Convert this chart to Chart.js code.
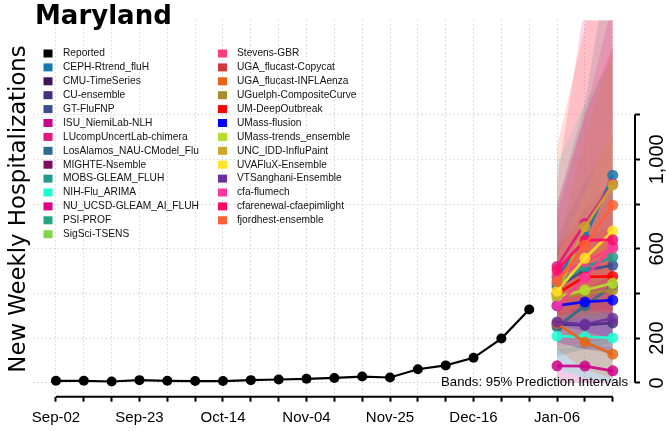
<!DOCTYPE html>
<html>
<head>
<meta charset="utf-8">
<script src="https://cdn.jsdelivr.net/npm/chart.js@4"></script>
<style>
  html, body { margin: 0; padding: 0; background: #ffffff; }
  canvas { display: block; }
</style>
</head>
<body>
<canvas id="c" width="666" height="431"></canvas>
<script>
// ---------------- DATA ----------------
const chartTitle = 'Maryland';
const yAxisTitle = 'New Weekly Hospitalizations';
const bandNote = 'Bands: 95% Prediction Intervals';

const weekLabels = ['Sep-02','Sep-09','Sep-16','Sep-23','Sep-30','Oct-07','Oct-14','Oct-21','Oct-28',
  'Nov-04','Nov-11','Nov-18','Nov-25','Dec-02','Dec-09','Dec-16','Dec-23','Dec-30','Jan-06','Jan-13','Jan-20'];
const xTickLabels = ['Sep-02','','','Sep-23','','','Oct-14','','','Nov-04','','','Nov-25','','','Dec-16','','','Jan-06','',''];

const yTickValues = [0, 200, 400, 600, 800, 1000, 1200];
const yTickLabels = ['0', '200', '', '600', '', '1,000', ''];

const reported = [9, 9, 6, 12, 9, 8, 8, 12, 15, 18, 22, 28, 24, 61, 78, 112, 198, 328];

const forecastStart = 18; // index of Jan-06

const models = ['CEPH-Rtrend_fluH','CMU-TimeSeries','CU-ensemble','GT-FluFNP','ISU_NiemiLab-NLH',
  'LUcompUncertLab-chimera','LosAlamos_NAU-CModel_Flu','MIGHTE-Nsemble','MOBS-GLEAM_FLUH','NIH-Flu_ARIMA',
  'NU_UCSD-GLEAM_AI_FLUH','PSI-PROF','SigSci-TSENS','Stevens-GBR','UGA_flucast-Copycat',
  'UGA_flucast-INFLAenza','UGuelph-CompositeCurve','UM-DeepOutbreak','UMass-flusion','UMass-trends_ensemble',
  'UNC_IDD-InfluPaint','UVAFluX-Ensemble','VTSanghani-Ensemble','cfa-flumech','cfarenewal-cfaepimlight',
  'fjordhest-ensemble'];

const modelColors = ['#1479AE','#3F1558','#472F7D','#3A4D8F','#CC0088',
  '#E0187F','#2C6B8C','#7A1060','#239A8C','#1CFFD2',
  '#DB0080','#24A685','#82D54A','#FF3D7A','#CF3B3B',
  '#E86413','#A98C2F','#FF0000','#0000FF','#B3DE2C',
  '#C9A82A','#FFE423','#6A2F9C','#FF389E','#FF0A6C',
  '#FF5F34'];

// median forecasts for Jan-06, Jan-13, Jan-20 (null = no forecast shown)
const fcMedian = [
  [470, 650, 929], null, [262, 258, 268], [430, 504, 526], [76, 75, 54],
  [521, 713, 890], [250, 345, 435], null, [445, 519, 562], [209, 206, 201],
  null, null, null, [480, 541, 603], null,
  [265, 183, 128], [380, 400, 415], [400, 474, 476], [345, 362, 370], [385, 415, 446],
  [395, 698, 885], [410, 557, 679], [272, 262, 289], [345, 470, 610], [505, 638, 640],
  [452, 616, 795]
];
const fcLower = [
  [250, 300, 380], null, [180, 150, 130], [300, 320, 330], [0, 0, 0],
  [350, 400, 420], [120, 150, 180], null, [300, 300, 280], [60, 20, 0],
  null, null, null, [350, 380, 400], null,
  [150, 60, 20], [280, 270, 260], [300, 330, 320], [260, 230, 200], [290, 290, 280],
  [250, 400, 500], [300, 350, 380], [180, 150, 140], [150, 180, 200], [300, 330, 300],
  [250, 300, 320]
];
const fcUpper = [
  [800, 1250, 2000], null, [360, 400, 450], [600, 780, 900], [150, 170, 160],
  [750, 1200, 1700], [420, 650, 900], null, [650, 900, 1100], [980, 1250, 1450],
  null, null, null, [620, 720, 820], null,
  [420, 380, 350], [500, 560, 620], [520, 650, 700], [440, 520, 600], [490, 580, 680],
  [600, 1100, 1500], [560, 850, 1150], [380, 420, 480], [900, 1700, 2500], [800, 1200, 1500],
  [1057, 1590, 2500]
];

// ---------------- BUILD ----------------
function rgba(hex, a) {
  const n = parseInt(hex.slice(1), 16);
  return `rgba(${(n >> 16) & 255},${(n >> 8) & 255},${n & 255},${a})`;
}
const bandAlpha = 0.2;
const nM = models.length;

const datasets = [];
datasets.push({
  label: 'Reported',
  data: reported.map((v, i) => ({ x: i, y: v })),
  borderColor: '#000', backgroundColor: '#000',
  borderWidth: 2.2, pointRadius: 5, pointBorderWidth: 0, order: 0
});
// later models are painted on top (lower order = drawn later in Chart.js)
models.forEach((m, k) => {
  if (!fcMedian[k]) return;
  datasets.push({
    label: m,
    data: fcMedian[k].map((v, j) => ({ x: forecastStart + j, y: v })),
    borderColor: rgba(modelColors[k], 0.9), backgroundColor: rgba(modelColors[k], 0.85),
    borderWidth: 2.8, pointRadius: 5.5, pointBorderWidth: 0, order: 1 + (nM - k)
  });
});
models.forEach((m, k) => {
  if (!fcLower[k]) return;
  datasets.push({
    label: m + ' upper',
    data: fcUpper[k].map((v, j) => ({ x: forecastStart + j, y: v })),
    fill: '+1', backgroundColor: rgba(modelColors[k], bandAlpha),
    borderColor: 'rgba(0,0,0,0)', borderWidth: 1, pointRadius: 0, pointHitRadius: 0,
    order: 100 + 2 * (nM - k)
  });
  datasets.push({
    label: m + ' lower',
    data: fcLower[k].map((v, j) => ({ x: forecastStart + j, y: v })),
    fill: false, backgroundColor: 'rgba(0,0,0,0)',
    borderColor: 'rgba(0,0,0,0)', borderWidth: 1, pointRadius: 0, pointHitRadius: 0,
    order: 100 + 2 * (nM - k) + 1
  });
});

const legendNames = ['Reported'].concat(models);
const legendColors = ['#000000'].concat(modelColors);

const decor = {
  id: 'decor',
  afterDraw(chart) {
    const { ctx, chartArea, scales: { x, y } } = chart;
    ctx.save();
    // axis lines (R style: span first to last tick)
    ctx.strokeStyle = '#000'; ctx.lineWidth = 2;
    ctx.beginPath();
    ctx.moveTo(x.getPixelForValue(0), chartArea.bottom);
    ctx.lineTo(x.getPixelForValue(weekLabels.length - 1), chartArea.bottom);
    ctx.moveTo(chartArea.right, y.getPixelForValue(yTickValues[0]));
    ctx.lineTo(chartArea.right, y.getPixelForValue(yTickValues[yTickValues.length - 1]));
    ctx.stroke();

    // right-axis labels, rotated
    ctx.fillStyle = '#000';
    ctx.font = '20px "Liberation Sans", Arial, sans-serif';
    ctx.textAlign = 'center'; ctx.textBaseline = 'alphabetic';
    yTickValues.forEach((v, i) => {
      const lab = yTickLabels[i];
      if (!lab) return;
      ctx.save();
      ctx.translate(chartArea.right + 28, y.getPixelForValue(v));
      ctx.rotate(-Math.PI / 2);
      ctx.fillText(lab, 0, 0);
      ctx.restore();
    });

    // title
    ctx.textAlign = 'left'; ctx.textBaseline = 'alphabetic';
    ctx.font = 'bold 26px "DejaVu Sans", sans-serif';
    ctx.fillText(chartTitle, 35, 24);

    // y-axis title
    ctx.save();
    ctx.translate(25, 209);
    ctx.rotate(-Math.PI / 2);
    ctx.textAlign = 'center';
    ctx.font = '22.8px "DejaVu Sans", sans-serif';
    ctx.fillText(yAxisTitle, 0, 0);
    ctx.restore();

    // bands note
    ctx.textAlign = 'right';
    ctx.font = '13.2px "Liberation Sans", Arial, sans-serif';
    ctx.fillText(bandNote, 628, 386);

    // legend (two columns)
    ctx.font = '10.2px "Liberation Sans", Arial, sans-serif';
    ctx.textAlign = 'left'; ctx.textBaseline = 'middle';
    const perCol = 14;
    legendNames.forEach((name, i) => {
      const col = Math.floor(i / perCol), row = i % perCol;
      const sx = col === 0 ? 43.5 : 218;
      const tx = col === 0 ? 63 : 237;
      const cy = 53.5 + row * 13.9;
      ctx.fillStyle = legendColors[i];
      ctx.fillRect(sx, cy - 4, 9, 8);
      ctx.fillStyle = '#111';
      ctx.fillText(name, tx, cy);
    });
    ctx.restore();
  }
};

const gridColor = '#c4c4c4';
new Chart(document.getElementById('c'), {
  type: 'line',
  data: { datasets },
  plugins: [decor],
  options: {
    responsive: false,
    animation: false,
    events: [],
    layout: { padding: { left: 33.7, top: 20.3, right: 0, bottom: 0 } },
    elements: { line: { tension: 0 } },
    plugins: { legend: { display: false }, tooltip: { enabled: false }, title: { display: false } },
    scales: {
      x: {
        type: 'linear', position: 'bottom', min: -0.8, max: 20.8,
        afterBuildTicks: s => { s.ticks = weekLabels.map((_, i) => ({ value: i })); },
        afterFit: s => { s.height = 34.3; },
        border: { display: false, dash: [1, 3] },
        grid: { color: gridColor, lineWidth: 1, drawTicks: true, tickLength: 5,
                tickColor: '#000', tickWidth: 2, tickBorderDash: [] },
        ticks: { autoSkip: false, maxRotation: 0, minRotation: 0, padding: 7, color: '#000',
                 font: { family: '"Liberation Sans", Arial, sans-serif', size: 15 },
                 callback: (v, i) => xTickLabels[i] }
      },
      y: {
        type: 'linear', position: 'right', min: -62, max: 1622,
        afterBuildTicks: s => { s.ticks = yTickValues.map(v => ({ value: v })); },
        afterFit: s => { s.width = 31; },
        border: { display: false, dash: [1, 3] },
        grid: { color: gridColor, lineWidth: 1, drawTicks: true, tickLength: 5,
                tickColor: '#000', tickWidth: 2, tickBorderDash: [] },
        ticks: { display: false }
      }
    }
  }
});
</script>
</body>
</html>
